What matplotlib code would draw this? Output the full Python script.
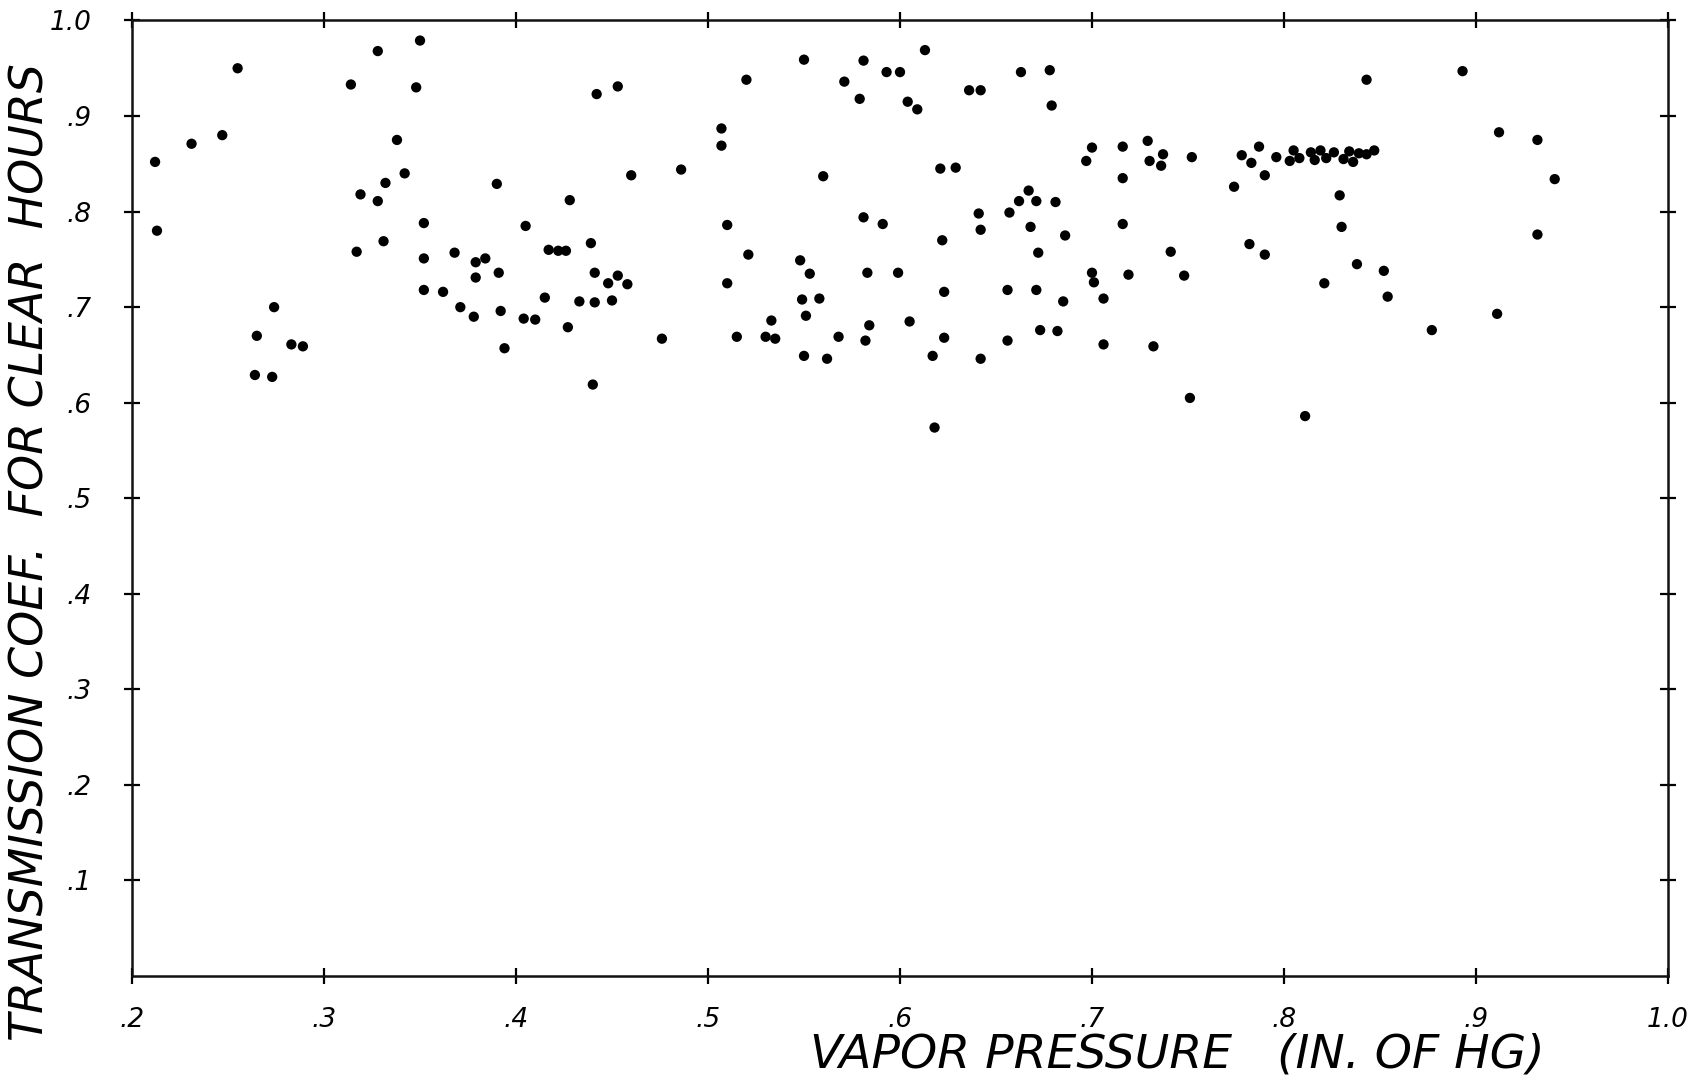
import numpy as np
import matplotlib
matplotlib.use("Agg")
import matplotlib.pyplot as plt

# vapor pressure (in. of Hg) vs transmission coefficient
vapor = [
    0.212, 0.213, 0.231, 0.247, 0.255, 0.274, 0.265, 0.283, 0.289, 0.264, 0.273,
    0.314, 0.328, 0.350, 0.348, 0.338, 0.342, 0.332, 0.319, 0.328, 0.352, 0.390,
    0.405, 0.331, 0.317, 0.352, 0.368, 0.379, 0.384, 0.379, 0.391, 0.352, 0.362,
    0.371, 0.378, 0.392, 0.404, 0.410, 0.394,
    0.442, 0.453, 0.460, 0.486, 0.428, 0.417, 0.422, 0.426, 0.439, 0.441, 0.453,
    0.448, 0.458, 0.415, 0.433, 0.441, 0.450, 0.427, 0.476, 0.440, 0.507, 0.507,
    0.520, 0.550, 0.581, 0.593, 0.600, 0.613, 0.571, 0.579, 0.604, 0.609, 0.560,
    0.510, 0.521, 0.581, 0.591, 0.548, 0.553, 0.583, 0.599, 0.510, 0.549, 0.558,
    0.551, 0.533, 0.584, 0.605, 0.515, 0.530, 0.535, 0.568, 0.582, 0.550, 0.562,
    0.617, 0.618,
    0.663, 0.678, 0.636, 0.642, 0.679, 0.621, 0.629, 0.700, 0.697, 0.716, 0.729,
    0.737, 0.730, 0.736, 0.752, 0.716, 0.774, 0.778, 0.783, 0.787, 0.790, 0.796,
    0.803, 0.805, 0.808, 0.814, 0.816, 0.819, 0.822, 0.826, 0.831, 0.834, 0.836,
    0.839, 0.843, 0.847,
    0.667, 0.662, 0.671, 0.681, 0.641, 0.657, 0.642, 0.668, 0.686, 0.716, 0.622,
    0.672, 0.741, 0.782, 0.790, 0.700, 0.719, 0.748, 0.701, 0.623, 0.656, 0.671,
    0.685, 0.706, 0.821, 0.623, 0.642, 0.656, 0.673, 0.682, 0.706, 0.732, 0.751,
    0.811, 0.829, 0.830,
    0.843, 0.893, 0.912, 0.932, 0.941, 0.932, 0.838, 0.852, 0.854, 0.911, 0.877,
]
trans = [
    0.852, 0.780, 0.871, 0.880, 0.950, 0.700, 0.670, 0.661, 0.659, 0.629, 0.627,
    0.933, 0.968, 0.979, 0.930, 0.875, 0.840, 0.830, 0.818, 0.811, 0.788, 0.829,
    0.785, 0.769, 0.758, 0.751, 0.757, 0.747, 0.751, 0.731, 0.736, 0.718, 0.716,
    0.700, 0.690, 0.696, 0.688, 0.687, 0.657,
    0.923, 0.931, 0.838, 0.844, 0.812, 0.760, 0.759, 0.759, 0.767, 0.736, 0.733,
    0.725, 0.724, 0.710, 0.706, 0.705, 0.707, 0.679, 0.667, 0.619, 0.887, 0.869,
    0.938, 0.959, 0.958, 0.946, 0.946, 0.969, 0.936, 0.918, 0.915, 0.907, 0.837,
    0.786, 0.755, 0.794, 0.787, 0.749, 0.735, 0.736, 0.736, 0.725, 0.708, 0.709,
    0.691, 0.686, 0.681, 0.685, 0.669, 0.669, 0.667, 0.669, 0.665, 0.649, 0.646,
    0.649, 0.574,
    0.946, 0.948, 0.927, 0.927, 0.911, 0.845, 0.846, 0.867, 0.853, 0.868, 0.874,
    0.860, 0.853, 0.848, 0.857, 0.835, 0.826, 0.859, 0.851, 0.868, 0.838, 0.857,
    0.853, 0.864, 0.856, 0.862, 0.854, 0.864, 0.856, 0.862, 0.855, 0.863, 0.852,
    0.861, 0.860, 0.864,
    0.822, 0.811, 0.811, 0.810, 0.798, 0.799, 0.781, 0.784, 0.775, 0.787, 0.770,
    0.757, 0.758, 0.766, 0.755, 0.736, 0.734, 0.733, 0.726, 0.716, 0.718, 0.718,
    0.706, 0.709, 0.725, 0.668, 0.646, 0.665, 0.676, 0.675, 0.661, 0.659, 0.605,
    0.586, 0.817, 0.784,
    0.938, 0.947, 0.883, 0.875, 0.834, 0.776, 0.745, 0.738, 0.711, 0.693, 0.676,
]

x_ticks = [0.2, 0.3, 0.4, 0.5, 0.6, 0.7, 0.8, 0.9, 1.0]
x_labels = [".2", ".3", ".4", ".5", ".6", ".7", ".8", ".9", "1.0"]
y_ticks = [0.1, 0.2, 0.3, 0.4, 0.5, 0.6, 0.7, 0.8, 0.9, 1.0]
y_labels = [".1", ".2", ".3", ".4", ".5", ".6", ".7", ".8", ".9", "1.0"]

font = dict(family="DejaVu Sans", style="oblique", color="black")

fig = plt.figure(figsize=(16.97, 10.84), dpi=100)
ax = fig.add_axes([0.0778, 0.0996, 0.9051, 0.8815])
ax.scatter(vapor, trans, s=55, color="black", edgecolors="none", zorder=3)

ax.set_xlim(0.2, 1.0)
ax.set_ylim(0.0, 1.0)
ax.set_xticks(x_ticks)
ax.set_xticklabels(x_labels, fontsize=19, **font)
ax.set_yticks(y_ticks)
ax.set_yticklabels(y_labels, fontsize=19, **font)
ax.tick_params(axis="both", direction="inout", length=12, width=1.6,
               top=True, right=True, color="black")
ax.tick_params(axis="x", pad=16)
ax.tick_params(axis="y", pad=23)
for sp in ax.spines.values():
    sp.set_linewidth(1.8)
    sp.set_color("#111111")

fig.text(0.6935, 0.027, "VAPOR PRESSURE   (IN. OF HG)", fontsize=34,
         ha="center", va="center", **font)
fig.text(0.018, 0.491, "TRANSMISSION COEF.  FOR CLEAR  HOURS", fontsize=33,
         ha="center", va="center", rotation=90, **font)

fig.savefig("out.png", dpi=100)
